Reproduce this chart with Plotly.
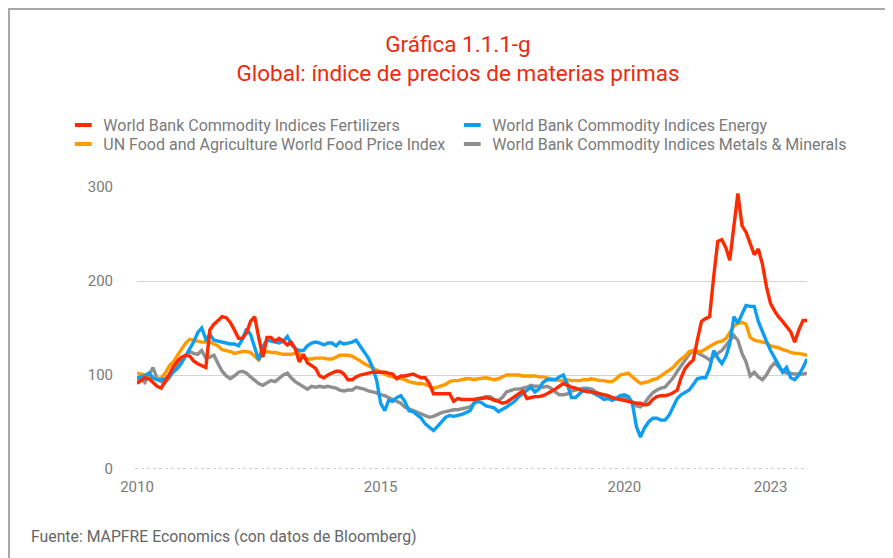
import pandas as pd
import plotly.graph_objects as go

# Monthly index values, Jan 2010 - Oct 2023
fertilizers = [
    91, 94, 97, 96, 92, 88, 86, 93, 101, 109, 115, 119,        # 2010
    121, 120, 115, 112, 110, 108, 148, 154, 158, 162, 161, 156,  # 2011
    148, 139, 139, 145, 157, 162, 140, 119, 140, 140, 136, 139,  # 2012
    136, 132, 135, 128, 114, 122, 113, 110, 107, 99, 97, 100,    # 2013
    102, 104, 104, 101, 95, 95, 98, 100, 101, 102, 103, 103,     # 2014
    103, 103, 102, 101, 96, 99, 99, 100, 101, 99, 97, 97,        # 2015
    91, 80, 80, 80, 80, 80, 72, 75, 74, 74, 74, 74,              # 2016
    75, 75, 76, 75, 73, 72, 70, 71, 74, 77, 80, 83,              # 2017
    75, 76, 77, 77, 78, 80, 83, 85, 88, 91, 89, 87,              # 2018
    86, 84, 83, 82, 82, 81, 80, 79, 78, 76, 75, 74,              # 2019
    73, 72, 71, 70, 70, 68, 69, 74, 77, 78, 78, 79,              # 2020
    81, 84, 97, 107, 112, 116, 137, 157, 160, 162, 205, 242,     # 2021
    244, 235, 222, 255, 293, 259, 252, 240, 228, 234, 218, 194,  # 2022
    176, 168, 162, 157, 152, 146, 135, 148, 158, 158,            # 2023
]
energy = [
    97, 98, 99, 102, 97, 95, 95, 96, 100, 103, 107, 113,
    120, 127, 135, 145, 150, 138, 143, 137, 136, 135, 134, 133,
    133, 131, 138, 149, 143, 128, 116, 130, 137, 136, 135, 134,
    136, 141, 133, 128, 126, 126, 131, 134, 135, 134, 132, 134,
    134, 131, 135, 133, 134, 135, 137, 131, 125, 118, 108, 95,
    70, 62, 73, 72, 76, 78, 72, 62, 61, 58, 54, 48,
    44, 41, 45, 50, 55, 57, 56, 57, 58, 60, 62, 70,
    72, 70, 67, 66, 65, 61, 63, 66, 69, 72, 77, 80,
    84, 87, 82, 85, 92, 95, 95, 95, 98, 100, 90, 76,
    76, 80, 84, 84, 82, 79, 77, 74, 75, 73, 75, 78,
    79, 77, 70, 45, 34, 44, 50, 54, 54, 52, 52, 57,
    66, 75, 79, 82, 84, 90, 96, 97, 97, 107, 126, 118,
    112, 120, 133, 162, 155, 165, 174, 173, 173, 157, 145, 136,
    126, 118, 110, 103, 108, 97, 95, 100, 108, 117,
]
food = [
    102, 101, 100, 99, 97, 96, 97, 102, 110, 114, 121, 128,
    134, 138, 137, 136, 135, 135, 135, 133, 131, 127, 126, 125,
    123, 124, 125, 125, 124, 120, 116, 125, 125, 124, 124, 123,
    122, 122, 122, 123, 123, 119, 117, 117, 118, 118, 118, 117,
    117, 119, 121, 121, 121, 120, 118, 115, 112, 110, 107, 105,
    103, 101, 99, 98, 97, 96, 95, 93, 92, 91, 91, 90,
    88, 86, 87, 89, 90, 93, 94, 94, 95, 96, 96, 95,
    96, 97, 97, 96, 95, 96, 98, 100, 100, 100, 100, 99,
    99, 99, 99, 98, 98, 97, 96, 95, 94, 94, 95, 94,
    94, 94, 95, 95, 96, 95, 94, 94, 93, 93, 96, 100,
    101, 102, 98, 95, 91, 92, 93, 95, 96, 99, 102, 105,
    108, 113, 117, 120, 125, 126, 125, 125, 128, 131, 133, 135,
    136, 139, 145, 152, 155, 156, 154, 140, 137, 136, 135, 134,
    131, 130, 129, 127, 126, 124, 123, 123, 122, 121,
]
metals = [
    93, 96, 92, 100, 108, 96, 93, 92, 97, 104, 111, 116,
    121, 125, 123, 122, 126, 118, 119, 121, 112, 104, 99, 96,
    99, 103, 104, 102, 98, 94, 91, 89, 92, 94, 93, 97,
    100, 102, 97, 93, 90, 87, 85, 88, 87, 88, 87, 88,
    87, 86, 84, 83, 84, 84, 87, 86, 85, 83, 82, 81,
    79, 78, 76, 74, 72, 70, 66, 64, 62, 61, 59, 57,
    55, 56, 58, 60, 61, 62, 63, 63, 64, 65, 66, 70,
    74, 76, 77, 77, 74, 73, 76, 82, 84, 85, 85, 86,
    87, 89, 88, 88, 87, 88, 86, 82, 79, 79, 80, 83,
    84, 85, 86, 86, 85, 82, 80, 78, 77, 76, 75, 74,
    77, 75, 71, 67, 66, 70, 76, 81, 84, 86, 87, 92,
    97, 104, 110, 116, 122, 126, 124, 122, 119, 116, 120, 123,
    126, 132, 137, 142, 137, 123, 114, 99, 103, 98, 95, 100,
    108, 113, 109, 104, 102, 102, 101, 101, 101, 102,
]
dates = pd.date_range("2010-01-01", periods=len(fertilizers), freq="MS")

# (name, values, colour, legend row, legend entry width)
series = [
    ("World Bank Commodity Indices Fertilizers", fertilizers, "#ff2a00", "legend", 344),
    ("World Bank Commodity Indices Energy", energy, "#0d9ef2", "legend", 362),
    ("UN Food and Agriculture World Food Price Index", food, "#ff9a00", "legend2", 344),
    ("World Bank Commodity Indices Metals & Minerals", metals, "#8f8f8f", "legend2", 362),
]
# drawing order: grey and orange underneath, red on top
draw_order = [3, 2, 1, 0]
year_ticks = ["2010-01-01", "2015-01-01", "2020-01-01", "2023-01-01"]
year_labels = ["2010", "2015", "2020", "2023"]

FONT = "Roboto, 'Open Sans', sans-serif"
TXT = "#7a7a7a"

fig = go.Figure()
for i in draw_order:
    name, vals, color, _, _ = series[i]
    fig.add_scatter(x=dates, y=vals, mode="lines", name=name, showlegend=False,
                    line=dict(color=color, width=3.4), hoverinfo="skip")
# legend entries: short thick dashes, two per row
for name, _, color, leg, lw in series:
    fig.add_scatter(x=[None], y=[None], mode="markers", name=name, legend=leg, legendwidth=lw,
                    marker=dict(symbol="line-ew-open", size=12, color=color,
                                line=dict(width=4, color=color)))

legend_row = dict(orientation="h", xref="paper", yref="paper", xanchor="left", yanchor="middle",
                  x=-0.110, entrywidthmode="pixels",
                  font=dict(size=16, color=TXT), itemclick=False, bgcolor="rgba(0,0,0,0)")

# the page body adds an 8px offset, so a 885x550 figure fills the window exactly
W, H = 885, 550
fig.update_layout(
    width=W, height=H,
    paper_bgcolor="white", plot_bgcolor="white",
    font=dict(family=FONT, color=TXT, size=14),
    margin=dict(l=129, r=86, t=179, b=89, autoexpand=False),
    title=dict(text="Gráfica 1.1.1-g<br>Global: índice de precios de materias primas",
               x=450 / W, xanchor="center", y=1 - 44 / H, yanchor="top",
               font=dict(family=FONT, size=22.5, color="#ee2a0c")),
    legend=dict(legend_row, y=(469 - 125) / 282),
    legend2=dict(legend_row, y=(469 - 144) / 282),
    xaxis=dict(range=[dates[0], dates[-1]], tickvals=year_ticks, ticktext=year_labels,
               showgrid=False, zeroline=False, showline=False,
               ticks="outside", ticklen=4, tickcolor="rgba(0,0,0,0)",
               tickfont=dict(size=15, color=TXT)),
    yaxis=dict(range=[0, 300], tickvals=[0, 100, 200, 300], showgrid=True,
               gridcolor="#d4d4d4", gridwidth=1, zeroline=False, showline=False,
               ticks="outside", ticklen=20, tickcolor="rgba(0,0,0,0)",
               tickfont=dict(size=15, color=TXT)),
    shapes=[
        # dotted baseline at zero
        dict(type="line", xref="paper", yref="y", x0=-0.003, x1=1, y0=0, y1=0,
             line=dict(color="white", width=2)),
        dict(type="line", xref="paper", yref="y", x0=-0.003, x1=1, y0=0, y1=0,
             line=dict(color="#9a9a9a", width=1, dash="dot")),
        # page frame (left and top edges)
        dict(type="rect", xref="paper", yref="paper", x0=-0.191, x1=1.3, y0=-0.5, y1=1.631,
             line=dict(color="#a8a8a8", width=2), fillcolor="rgba(0,0,0,0)"),
    ],
    annotations=[
        dict(text="Fuente: MAPFRE Economics (con datos de Bloomberg)", xref="paper", yref="paper",
             x=-0.161, y=-0.24, xanchor="left", yanchor="middle", showarrow=False,
             font=dict(size=15.8, color="#666666")),
    ],
)

fig.write_html("out.html")
